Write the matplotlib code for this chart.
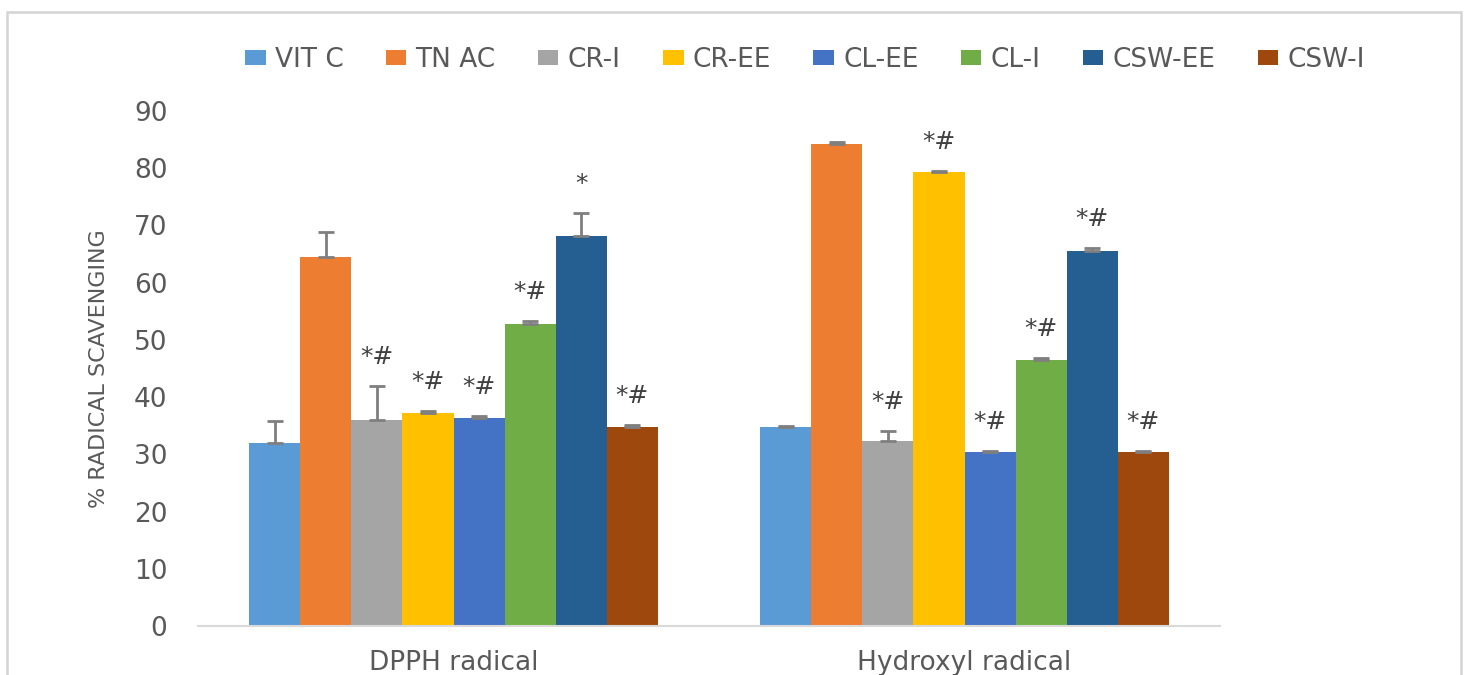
import numpy as np
import matplotlib
matplotlib.use('Agg')
import matplotlib.pyplot as plt
from matplotlib.patches import Rectangle

# data
categories = ['DPPH radical', 'Hydroxyl radical']
groups = ['VIT C', 'TN AC', 'CR-I', 'CR-EE', 'CL-EE', 'CL-I', 'CSW-EE', 'CSW-I']
colors = ['#5B9BD5', '#ED7D31', '#A5A5A5', '#FFC000', '#4472C4', '#70AD47', '#255E91', '#9E480E']

# values per group: [DPPH, Hydroxyl]
vit_c = [32.0, 34.8]
tn_ac = [64.5, 84.3]
cr_i = [36.0, 32.4]
cr_ee = [37.2, 79.3]
cl_ee = [36.4, 30.4]
cl_i = [52.7, 46.5]
csw_ee = [68.2, 65.5]
csw_i = [34.8, 30.4]

# plus-only error bars
err_vit_c = [3.9, 0.2]
err_tn_ac = [4.3, 0.2]
err_cr_i = [6.0, 1.7]
err_cr_ee = [0.3, 0.2]
err_cl_ee = [0.3, 0.2]
err_cl_i = [0.6, 0.3]
err_csw_ee = [4.0, 0.5]
err_csw_i = [0.3, 0.2]

# significance marks
sig_vit_c = ['', '']
sig_tn_ac = ['', '']
sig_cr_i = ['*#', '*#']
sig_cr_ee = ['*#', '*#']
sig_cl_ee = ['*#', '*#']
sig_cl_i = ['*#', '*#']
sig_csw_ee = ['*', '*#']
sig_csw_i = ['*#', '*#']

values = [vit_c, tn_ac, cr_i, cr_ee, cl_ee, cl_i, csw_ee, csw_i]
errors = [err_vit_c, err_tn_ac, err_cr_i, err_cr_ee, err_cl_ee, err_cl_i, err_csw_ee, err_csw_i]
sigs = [sig_vit_c, sig_tn_ac, sig_cr_i, sig_cr_ee, sig_cl_ee, sig_cl_i, sig_csw_ee, sig_csw_i]

plt.rcParams['font.family'] = ['DejaVu Sans']

W, H = 1469, 675
fig = plt.figure(figsize=(W / 100, H / 100), dpi=100)
ax = fig.add_axes([198 / W, 1 - 626 / H, (1220 - 198) / W, (626 - 111) / H])

# outer chart frame
fig.patches.append(Rectangle((7 / W, -0.05), (1461 - 7) / W, 1.05 - 12 / H,
                             transform=fig.transFigure, fill=False,
                             edgecolor='#d4d4d4', linewidth=1.8))

x = np.arange(len(categories))
bw = 0.1
for i, (g, c) in enumerate(zip(groups, colors)):
    pos = x + (i - 3.5) * bw
    v = np.array(values[i])
    e = np.array(errors[i])
    ax.bar(pos, v, bw, color=c, label=g, zorder=2)
    ax.errorbar(pos, v, yerr=[np.zeros_like(e), e], fmt='none', ecolor='#7f7f7f',
                elinewidth=2, capsize=6, capthick=2, zorder=3)
    for j in range(len(categories)):
        if sigs[i][j]:
            ax.annotate(sigs[i][j], (pos[j], v[j] + e[j]), xytext=(0, 21),
                        textcoords='offset points', ha='center', va='center',
                        fontsize=18, color='#404040')

ax.set_xlim(-0.5, 1.5)
ax.set_ylim(0, 90)
ax.set_yticks(range(0, 91, 10))
ax.set_xticks(x)
ax.set_xticklabels(categories)
for s in ['top', 'right', 'left']:
    ax.spines[s].set_visible(False)
ax.spines['bottom'].set_color('#d9d9d9')
ax.spines['bottom'].set_linewidth(1.5)
ax.tick_params(axis='both', length=0, labelsize=19, labelcolor='#595959')
ax.tick_params(axis='y', pad=22)
ax.tick_params(axis='x', pad=17)
ax.set_ylabel('% RADICAL SCAVENGING', fontsize=16, color='#595959', labelpad=18)

fig.legend(loc='center', bbox_to_anchor=(805 / W, 1 - 60 / H), ncol=8, frameon=False,
           fontsize=19, labelcolor='#595959', handlelength=0.78, handleheight=0.5,
           handletextpad=0.35, columnspacing=1.6)

fig.savefig('out.png', dpi=100)
